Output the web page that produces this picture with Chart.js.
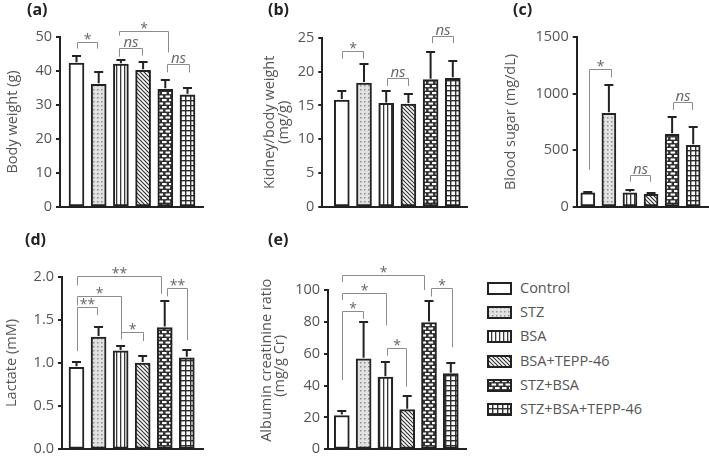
<!DOCTYPE html>
<html><head><meta charset="utf-8">
<script src="https://cdn.jsdelivr.net/npm/chart.js@4.4.1/dist/chart.umd.min.js"></script>
<style>
html,body{margin:0;padding:0;background:#fff;}
#wrap{position:relative;width:709px;height:462px;overflow:hidden;font-family:"Open Sans",sans-serif;}
canvas.p{position:absolute;}
.lbl{position:absolute;font:bold 16px "Open Sans";color:#222;line-height:16px;white-space:nowrap;}
.legtxt{position:absolute;left:520px;font:14.5px "Open Sans";color:#555;line-height:14px;white-space:nowrap;}
.legsw{position:absolute;left:487px;}
</style></head>
<body><div id="wrap">
<canvas class="p" id="pa" width="235" height="225" style="left:0;top:0"></canvas>
<canvas class="p" id="pb" width="235" height="225" style="left:235px;top:0"></canvas>
<canvas class="p" id="pc" width="239" height="225" style="left:470px;top:0"></canvas>
<canvas class="p" id="pd" width="235" height="237" style="left:0;top:225px"></canvas>
<canvas class="p" id="pe" width="235" height="237" style="left:235px;top:225px"></canvas>
<div class="lbl" style="left:27px;top:1px">(a)</div>
<div class="lbl" style="left:268px;top:1px">(b)</div>
<div class="lbl" style="left:513px;top:1px">(c)</div>
<div class="lbl" style="left:25px;top:231px">(d)</div>
<div class="lbl" style="left:268px;top:231px">(e)</div>
<div id="legend"></div>
</div>
<script>
// ---------- data ----------
const groups = ['Control','STZ','BSA','BSA+TEPP-46','STZ+BSA','STZ+BSA+TEPP-46'];

const bodyWeight      = [42.3, 36.1, 42.0, 40.2, 34.6, 33.0];
const bodyWeightErr   = [44.4, 39.7, 43.2, 42.6, 37.4, 35.0];
const bodyWeightTicks = [0, 10, 20, 30, 40, 50];
// [leftIndex, rightIndex, bracketTop, leftLegEnd, rightLegEnd, label]
const bodyWeightSig = [
  [0, 0.94, 48.4, 46.6, 46.6, '*'],
  [1.91, 2.94, 46.85, 44.2, 44.5, 'ns'],
  [1.91, 4.11, 51.76, 50.4, 45.5, '*'],
  [4.06, 5.07, 41.97, 39.6, 39.6, 'ns']
];

const kidneyRatio      = [15.8, 18.3, 15.3, 15.2, 18.8, 19.0];
const kidneyRatioErr   = [17.2, 21.1, 17.1, 16.7, 22.9, 21.6];
const kidneyRatioTicks = [0, 5, 10, 15, 20, 25];
const kidneyRatioSig = [
  [0, 0.97, 23.08, 21.9, 21.9, '*'],
  [2.04, 3.0, 19.0, 17.87, 17.87, 'ns'],
  [4.05, 5.02, 25.25, 24.2, 24.2, 'ns']
];

const bloodSugar      = [124, 827, 126, 112, 641, 544];
const bloodSugarErr   = [135, 1079, 150, 126, 794, 706];
const bloodSugarTicks = [0, 500, 1000, 1500];
const bloodSugarSig = [
  [0.07, 1.11, 1218, 329, 1144, '*'],
  [2.0, 2.95, 285, 223, 223, 'ns'],
  [4.03, 4.96, 924, 856, 856, 'ns']
];

const lactate      = [0.95, 1.30, 1.14, 1.00, 1.41, 1.06];
const lactateErr   = [1.01, 1.42, 1.20, 1.08, 1.72, 1.15];
const lactateTicks = [0.0, 0.5, 1.0, 1.5, 2.0];
const lactateSig = [
  [0, 3.84, 2.011, 1.90, 1.80, '**'],
  [0, 2.0, 1.772, 1.666, 1.274, '*'],
  [0, 0.92, 1.654, 1.137, 1.555, '**'],
  [2.0, 3.0, 1.354, 1.278, 1.255, '*'],
  [4.09, 5.02, 1.868, 1.772, 1.266, '**']
];

const acr      = [21.2, 56.8, 45.3, 24.9, 79.6, 47.5];
const acrErr   = [23.9, 79.8, 54.7, 33.3, 93.0, 53.9];
const acrTicks = [0, 20, 40, 60, 80, 100];
const acrSig = [
  [0, 3.78, 109.4, 105.1, 100, '*'],
  [0, 2.01, 98.1, 93.8, 77.8, '*'],
  [0, 0.99, 86.6, 43.4, 81.9, '*'],
  [2.07, 2.94, 63.6, 58.8, 39.3, '*'],
  [4.08, 5.07, 101, 95.9, 64, '*']
];

// ---------- fills ----------
function makeFill(k){
  if(k===0) return '#ffffff';
  const c=document.createElement('canvas'); const g=c.getContext('2d');
  if(k===1){ c.width=4;c.height=4; g.fillStyle='#e2e2e2'; g.fillRect(0,0,4,4); g.fillStyle='#8e8e8e'; g.fillRect(1,1,1.5,1.5); }
  else if(k===2){ c.width=4;c.height=4; g.fillStyle='#fff'; g.fillRect(0,0,4,4); g.fillStyle='#383838'; g.fillRect(0,0,1.3,4); }
  else if(k===3){ c.width=4;c.height=4; g.fillStyle='#fff'; g.fillRect(0,0,4,4); g.strokeStyle='#333'; g.lineWidth=1.2;
    g.beginPath(); g.moveTo(-1,-1); g.lineTo(5,5); g.moveTo(-1,3); g.lineTo(1,5); g.moveTo(3,-1); g.lineTo(5,1); g.stroke(); }
  else if(k===4){ c.width=7;c.height=7; g.fillStyle='#2e2e2e'; g.fillRect(0,0,7,7); g.fillStyle='#fff';
    g.fillRect(1,1,4.6,2.1); g.fillRect(4.5,4.5,4.6,2.1); g.fillRect(-2.5,4.5,4.6,2.1); }
  else { c.width=5;c.height=5; g.fillStyle='#fff'; g.fillRect(0,0,5,5); g.fillStyle='#2e2e2e'; g.fillRect(0,0,1.4,5); g.fillRect(0,0,5,1.4); }
  return g.createPattern(c,'repeat');
}
const fills = groups.map((_,i)=>makeFill(i));

// ---------- panels ----------
const panels = [
  {id:'pa', w:235, h:225, area:{left:60, right:203, top:37, bottom:207}, c0:76.5, step:22.2, bw:15,
   values:bodyWeight, err:bodyWeightErr, ticks:bodyWeightTicks, sig:bodyWeightSig, fmt:0,
   title:'Body weight (g)', tpad:4, lh:1.2},
  {id:'pb', w:235, h:225, area:{left:87.3, right:232, top:37.7, bottom:207}, c0:106.8, step:22.2, bw:15,
   values:kidneyRatio, err:kidneyRatioErr, ticks:kidneyRatioTicks, sig:kidneyRatioSig, fmt:0,
   title:['Kidney/body weight','(mg/g)'], tpad:27.5, lh:0.97},
  {id:'pc', w:239, h:225, area:{left:106.7, right:239, top:37, bottom:207}, c0:117.8, step:21.08, bw:14,
   values:bloodSugar, err:bloodSugarErr, ticks:bloodSugarTicks, sig:bloodSugarSig, fmt:0,
   title:'Blood sugar (mg/dL)', tpad:32, lh:1.2},
  {id:'pd', w:235, h:237, area:{left:62, right:203.3, top:51.7, bottom:227}, c0:76.5, step:22.06, bw:15,
   values:lactate, err:lactateErr, ticks:lactateTicks, sig:lactateSig, fmt:1,
   title:'Lactate (mM)', tpad:3.3, lh:1.2},
  {id:'pe', w:235, h:237, area:{left:93, right:231.7, top:65, bottom:227}, c0:106.8, step:21.8, bw:15,
   values:acr, err:acrErr, ticks:acrTicks, sig:acrSig, fmt:0,
   title:['\u00a0\u00a0\u00a0\u00a0\u00a0Albumin creatinine ratio','\u00a0\u00a0(mg/g Cr)'], tpad:25, lh:0.9}
];

function marks(p){
  return {id:'marks_'+p.id, afterDatasetsDraw(chart){
    const ctx=chart.ctx, x=chart.scales.x, y=chart.scales.y;
    ctx.save();
    ctx.strokeStyle='#222'; ctx.lineWidth=2;
    p.values.forEach((v,i)=>{
      const px=x.getPixelForValue(i), y0=y.getPixelForValue(v), y1=Math.round(y.getPixelForValue(p.err[i]));
      ctx.beginPath(); ctx.moveTo(px,y0-1); ctx.lineTo(px,y1); ctx.moveTo(px-4.5,y1); ctx.lineTo(px+4.5,y1); ctx.stroke();
    });
    ctx.strokeStyle='#8c8c8c'; ctx.lineWidth=1;
    p.sig.forEach(([i1,i2,top,b1,b2,label])=>{
      const xa=Math.round(x.getPixelForValue(i1))+0.5, xb=Math.round(x.getPixelForValue(i2))+0.5;
      const yt=Math.round(y.getPixelForValue(top))+0.5;
      ctx.beginPath(); ctx.moveTo(xa,y.getPixelForValue(b1)); ctx.lineTo(xa,yt); ctx.lineTo(xb,yt); ctx.lineTo(xb,y.getPixelForValue(b2)); ctx.stroke();
      ctx.fillStyle='#666'; ctx.textAlign='center'; ctx.textBaseline='alphabetic';
      if(label==='ns'){ ctx.font='italic 15px "Open Sans"'; ctx.fillText(label,(xa+xb)/2,yt-2); }
      else { ctx.font='14px "Open Sans"'; ctx.fillText(label,(xa+xb)/2,yt+1); }
    });
    ctx.restore();
  }};
}

function build(p){
  const a=p.area, ticks=p.ticks;
  new Chart(document.getElementById(p.id),{
    type:'bar',
    data:{datasets:[{data:p.values.map((v,i)=>({x:i,y:v})), backgroundColor:fills, borderColor:'#222',
      borderWidth:2, borderSkipped:false, barThickness:p.bw}]},
    options:{
      responsive:false, animation:false, devicePixelRatio:1,
      layout:{padding:{left:0, top:a.top, right:p.w-a.right, bottom:p.h-a.bottom}},
      plugins:{legend:{display:false}, tooltip:{enabled:false}},
      scales:{
        x:{type:'linear', offset:false, min:(a.left-p.c0)/p.step, max:(a.right-p.c0)/p.step,
           ticks:{display:false}, grid:{display:false}, border:{display:true,color:'#222',width:2},
           afterFit(s){s.height=0;}},
        y:{min:ticks[0], max:ticks[ticks.length-1],
           afterBuildTicks(s){s.ticks=ticks.map(v=>({value:v}));},
           ticks:{color:'#555', font:{family:'Open Sans',size:14.5}, padding:4,
             callback:(v)=>Number(v).toFixed(p.fmt)},
           grid:{drawOnChartArea:false, drawTicks:true, tickLength:4, color:'#222', lineWidth:2},
           border:{display:true,color:'#222',width:2},
           title:{display:true, text:p.title, color:'#555', font:{family:'Open Sans',size:14.5,lineHeight:p.lh},
             padding:{top:p.tpad,bottom:0}},
           afterFit(s){s.width=a.left;}}
      }
    },
    plugins:[marks(p)]
  });
}
panels.forEach(build);

// ---------- legend ----------
const leg=document.getElementById('legend');
groups.forEach((name,i)=>{
  const cy=288.5+i*24.2;
  const sw=document.createElement('canvas'); sw.width=25; sw.height=13; sw.className='legsw';
  sw.style.top=(cy-6.5)+'px';
  const g=sw.getContext('2d'); g.fillStyle=fills[i]; g.fillRect(1,1,23,11);
  g.strokeStyle='#222'; g.lineWidth=2; g.strokeRect(1,1,23,11);
  leg.appendChild(sw);
  const t=document.createElement('div'); t.className='legtxt'; t.textContent=name; t.style.top=(cy-7.6)+'px';
  leg.appendChild(t);
});
</script>
</body></html>
